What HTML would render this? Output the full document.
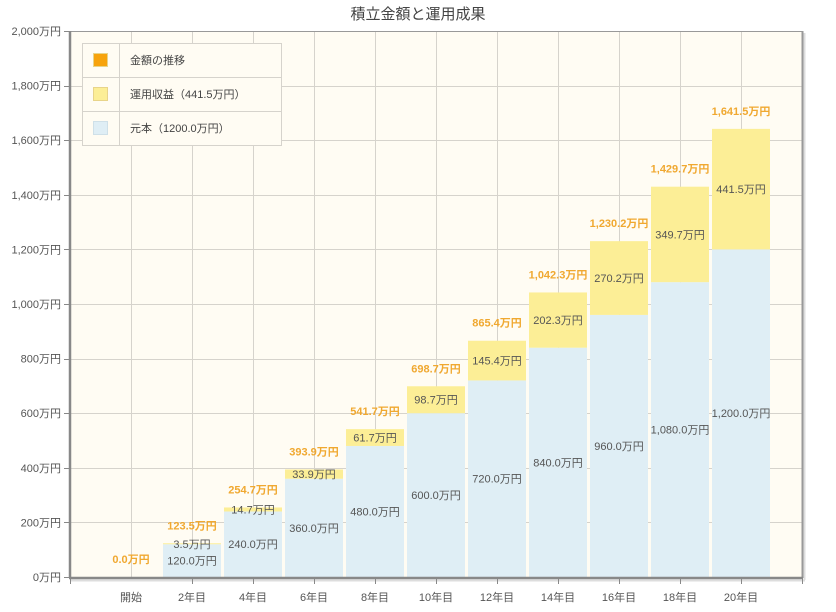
<!DOCTYPE html>
<html><head><meta charset="utf-8"><style>
html,body{margin:0;padding:0;background:#fff;}
svg text{font-family:"Liberation Sans","Noto Sans CJK JP",sans-serif;}
</style></head><body>
<svg width="836" height="607" xmlns="http://www.w3.org/2000/svg">
<text x="418" y="19" text-anchor="middle" font-size="15" fill="#444">積立金額と運用成果</text>
<rect x="70" y="31" width="732" height="546" fill="#fffcf3"/>
<g id="grid" stroke="#d6d3cc" stroke-width="1">
</g>
<g id="bars"></g>
<g id="labels"></g>
<!-- borders -->
<line x1="70" y1="31.5" x2="802" y2="31.5" stroke="#999" stroke-width="1"/>
<line x1="802.5" y1="31" x2="802.5" y2="578" stroke="#999" stroke-width="2"/>
<line x1="804.5" y1="33" x2="804.5" y2="580" stroke="#ddd" stroke-width="2"/>
<line x1="70" y1="31" x2="70" y2="578" stroke="#888" stroke-width="2.5"/>
<line x1="69" y1="578" x2="803" y2="578" stroke="#888" stroke-width="2.5"/>
<line x1="71" y1="580.5" x2="805" y2="580.5" stroke="#ddd" stroke-width="2"/>
<!-- legend -->
<g>
<rect x="82.5" y="43.5" width="199" height="102" fill="#fffcf3" stroke="#d6d3cc"/>
<line x1="82" y1="77.5" x2="281" y2="77.5" stroke="#d6d3cc"/>
<line x1="82" y1="111.5" x2="281" y2="111.5" stroke="#d6d3cc"/>
<line x1="119.5" y1="43" x2="119.5" y2="145" stroke="#d6d3cc"/>
<rect x="93.5" y="53.5" width="14" height="13" fill="#f7a30c" stroke="#e8d48a"/>
<rect x="93.5" y="87.5" width="14" height="13" fill="#fcee96" stroke="#e8d48a"/>
<rect x="93.5" y="121.5" width="14" height="13" fill="#dfeef5" stroke="#cfe0e8"/>
<text x="130" y="64" font-size="11" fill="#444">金額の推移</text>
<text x="130" y="98" font-size="11" fill="#444">運用収益（441.5万円）</text>
<text x="130" y="132" font-size="11" fill="#444">元本（1200.0万円）</text>
</g>
<g id="axes"></g>
<script>
var ns="http://www.w3.org/2000/svg";
function el(p,t,a,txt){var e=document.createElementNS(ns,t);for(var k in a)e.setAttribute(k,a[k]);if(txt!=null)e.textContent=txt;document.getElementById(p).appendChild(e);return e;}
var y0=577,sc=546/2000;
for(var i=1;i<=10;i++){var y=Math.round(y0-i*200*sc)+0.5;el('grid','line',{x1:70,x2:802,y1:y,y2:y});}
for(var k=0;k<=11;k++){var x=131+61*k+0.5;el('grid','line',{x1:x,x2:x,y1:31,y2:577});}
for(var i=0;i<=10;i++){var v=i*200;var y=y0-v*sc;
 el('axes','line',{x1:64,x2:70,y1:Math.round(y)+0.5,y2:Math.round(y)+0.5,stroke:'#888'});
 el('axes','text',{x:61,y:y+4,'text-anchor':'end','font-size':'11',fill:'#555'},(v>=1000?(Math.floor(v/1000)+','+String(v%1000).padStart(3,'0')):v)+'万円');}
var cats=['開始','2年目','4年目','6年目','8年目','10年目','12年目','14年目','16年目','18年目','20年目'];
var gains=[0,3.5,14.7,33.9,61.7,98.7,145.4,202.3,270.2,349.7,441.5];
el('axes','line',{x1:70.5,x2:70.5,y1:578,y2:584,stroke:'#888'});
for(var k=0;k<11;k++){var cx=131+61*k;
 el('axes','line',{x1:cx+61.5,x2:cx+61.5,y1:578,y2:584,stroke:'#888'});
 el('axes','text',{x:cx,y:601,'text-anchor':'middle','font-size':'11',fill:'#555'},cats[k]);
 var p=120*k,g=gains[k],t=p+g;
 var yp=y0-p*sc,yt=y0-t*sc;
 if(k>0){
  el('bars','rect',{x:cx-29,y:yp,width:58,height:y0-yp,fill:'#dfeef5'});
  el('bars','rect',{x:cx-29,y:yt,width:58,height:yp-yt,fill:'#fcee96'});
  el('labels','text',{x:cx,y:(yp+y0)/2+4,'text-anchor':'middle','font-size':'11',fill:'#555'},p.toFixed(1).replace(/^(\d)(\d{3})/,'$1,$2')+'万円');
  el('labels','text',{x:cx,y:(yp+yt)/2+4,'text-anchor':'middle','font-size':'11',fill:'#555'},g.toFixed(1)+'万円');
 }
 el('labels','text',{x:cx,y:yt-14,'text-anchor':'middle','font-size':'11','font-weight':'bold',fill:'#f0a830'},t.toFixed(1).replace(/^(\d)(\d{3})/,'$1,$2')+'万円');
}
</script>
</svg>
</body></html>
